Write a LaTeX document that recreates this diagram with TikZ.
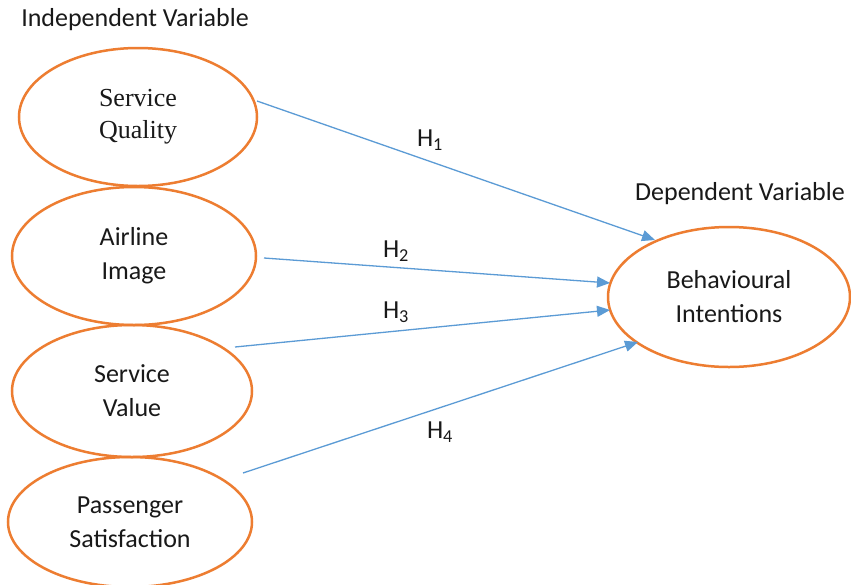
\documentclass[tikz,border=0pt]{standalone}
\usepackage{fontspec}
\setmainfont{Carlito}
\newfontfamily\serifface{Liberation Serif}
\usetikzlibrary{arrows.meta,shapes.geometric}
\definecolor{ellorange}{RGB}{237,125,49}
\definecolor{arrblue}{RGB}{91,155,213}
\definecolor{txtgray}{RGB}{25,25,25}
\tikzset{
  var/.style={draw=ellorange, line width=2.5pt, ellipse, inner sep=0pt, text=txtgray,
    font=\fontsize{26}{34}\selectfont, align=center},
  lbl/.style={text=txtgray, font=\fontsize{26}{34}\selectfont, align=center},
  hyp/.style={draw=arrblue, line width=1.3pt, -{Triangle[length=13pt,width=11pt]}},
  hlab/.style={text=txtgray, font=\fontsize{26}{30}\selectfont}
}
\begin{document}
\begin{tikzpicture}[x=1pt,y=-1pt]
\useasboundingbox (0,0) rectangle (851,584);
\fill[white] (0,0) rectangle (851,584);
\node[var, minimum width=238pt, minimum height=138pt, font=\serifface\fontsize{26}{32}\selectfont] (sq) at (138,117) {Service\\Quality};
\node[var, minimum width=244pt, minimum height=138pt] (ai) at (134,256) {Airline\\Image};
\node[var, minimum width=240pt, minimum height=132pt] (sv) at (132,391) {Service\\Value};
\node[var, minimum width=244pt, minimum height=130pt] (ps) at (130,522) {Passenger\\Satisfaction};
\node[var, minimum width=242pt, minimum height=140pt] (bi) at (729,297) {Behavioural\\Intentions};
\node[lbl] (iv) at (135,20) {Independent Variable};
\node[lbl] (dv) at (740,194) {Dependent Variable};
\coordinate (s1) at (257,101); \coordinate (t1) at (655,240);
\coordinate (s2) at (264,258); \coordinate (t2) at (610,283);
\coordinate (s3) at (235,347); \coordinate (t3) at (610,310);
\coordinate (s4) at (243,473); \coordinate (t4) at (638,342);
\draw[hyp] (s1) -- (t1);
\draw[hyp] (s2) -- (t2);
\draw[hyp] (s3) -- (t3);
\draw[hyp] (s4) -- (t4);
\node[hlab] (h1) at (430,140) {H\textsubscript{1}};
\node[hlab] (h2) at (396,251) {H\textsubscript{2}};
\node[hlab] (h3) at (396,312) {H\textsubscript{3}};
\node[hlab] (h4) at (440,432) {H\textsubscript{4}};
\end{tikzpicture}
\end{document}
